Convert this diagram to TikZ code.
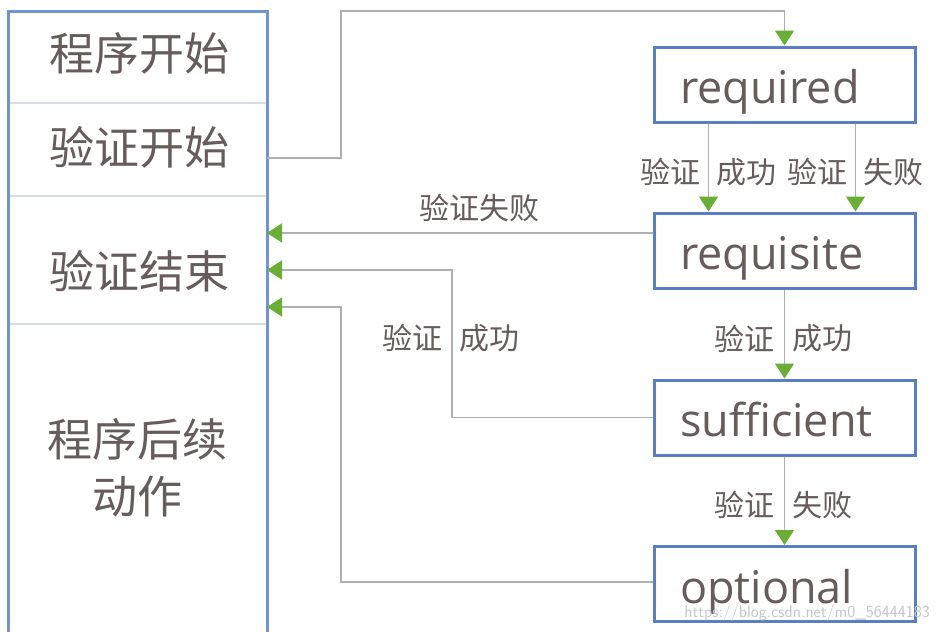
\documentclass[tikz,border=0pt]{standalone}
\usepackage{fontspec}
\setmainfont{Open Sans}
\newfontfamily\cjk{Noto Sans CJK SC}
\usetikzlibrary{arrows.meta}
\definecolor{txt}{HTML}{675C5C}
\definecolor{boxblue}{HTML}{5A7EC0}
\definecolor{frameblue}{HTML}{7094CC}
\definecolor{lnk}{HTML}{B0B0B0}
\definecolor{tipgreen}{HTML}{6AAE35}
\definecolor{divider}{HTML}{D8DCE3}
\begin{document}
\begin{tikzpicture}[x=1pt,y=-1pt,
  sec/.style={minimum width=259pt, inner sep=0pt, outer sep=0pt, draw=none},
  big/.style={font=\cjk\fontsize{45}{57}\selectfont, text=txt, align=center, inner sep=0pt},
  mod/.style={draw=boxblue, line width=3pt, minimum width=261pt, minimum height=75pt,
    text width=209pt, align=left, inner xsep=26pt, inner ysep=0pt,
    text height=38pt, text depth=0pt, font=\fontsize{45}{48}\selectfont, text=txt},
  lab/.style={font=\cjk\fontsize{30}{32}\selectfont, text=txt, inner sep=0pt},
  link/.style={draw=lnk, line width=1.6pt, -{Triangle[length=15pt,width=19pt,color=tipgreen]}},
  divline/.style={draw=divider, line width=1.5pt},
  frame/.style={draw=frameblue, line width=3pt}
]
\useasboundingbox[fill=white] (0,0) rectangle (941,632);

% left column sections
\node[sec, minimum height=92pt]  (s1) at (137.5,57)    {};
\node[sec, minimum height=93pt]  (s2) at (137.5,149.5) {};
\node[sec, minimum height=128pt] (s3) at (137.5,260)   {};
\node[sec, minimum height=308pt] (s4) at (137.5,478)   {};
\node[big] (t1) at (139,53)  {程序开始};
\node[big] (t2) at (139,147) {验证开始};
\node[big] (t3) at (139,271) {验证结束};
\node[big] (t4) at (137,468) {程序后续\\动作};

\draw[divline] (s1.south west) -- (s1.south east);
\draw[divline] (s2.south west) -- (s2.south east);
\draw[divline] (s3.south west) -- (s3.south east);
\draw[frame] (s4.south west) -- (s1.north west) -- (s1.north east) -- (s4.south east);

% modules
\node[mod] (req) at (784.5,84.5)  {required};
\node[mod] (rqs) at (784.5,250.5) {requisite};
\node[mod] (suf) at (784.5,417.5) {sufficient};
\node[mod] (opt) at (784.5,584)   {optional};

% connectors
\coordinate (c1) at (341,11);
\draw[link] ([yshift=-8.5pt]s2.east) -| (c1) -| (req.north);

\draw[link] ([xshift=56pt]req.south west) -- ([xshift=56pt]rqs.north west)
  node[lab, pos=0.55, anchor=east, xshift=-7pt] {验证}
  node[lab, pos=0.55, anchor=west, xshift=7pt] {成功};
\draw[link] ([xshift=203pt]req.south west) -- ([xshift=203pt]rqs.north west)
  node[lab, pos=0.55, anchor=east, xshift=-7pt] {验证}
  node[lab, pos=0.55, anchor=west, xshift=7pt] {失败};

\coordinate (r3) at ([yshift=17.5pt]rqs.west);
\draw[link] (r3) -- (r3 -| s3.east)
  node[lab, pos=0.45, anchor=south, yshift=10pt] {验证失败};

\draw[link] (rqs.south) -- (suf.north)
  node[lab, pos=0.55, anchor=east, xshift=-9pt] {验证}
  node[lab, pos=0.55, anchor=west, xshift=7pt] {成功};

\coordinate (c5) at (452,270);
\draw[link] (suf.west) -| (c5) -- (c5 -| s3.east);
\node[lab, anchor=east] (l5a) at (443,338) {验证};
\node[lab, anchor=west] (l5b) at (459,338) {成功};

\draw[link] (suf.south) -- (opt.north)
  node[lab, pos=0.55, anchor=east, xshift=-9pt] {验证}
  node[lab, pos=0.55, anchor=west, xshift=7pt] {失败};

\coordinate (c7) at (341,307);
\draw[link] ([yshift=2pt]opt.west) -| (c7) -- (c7 -| s3.east);

% watermark
\node[font=\fontsize{17}{18}\selectfont\sffamily, text=black!22, anchor=base east, inner sep=0pt] (wm) at (930,617) {https://blog.csdn.net/m0\_56444183};
\end{tikzpicture}
\end{document}
